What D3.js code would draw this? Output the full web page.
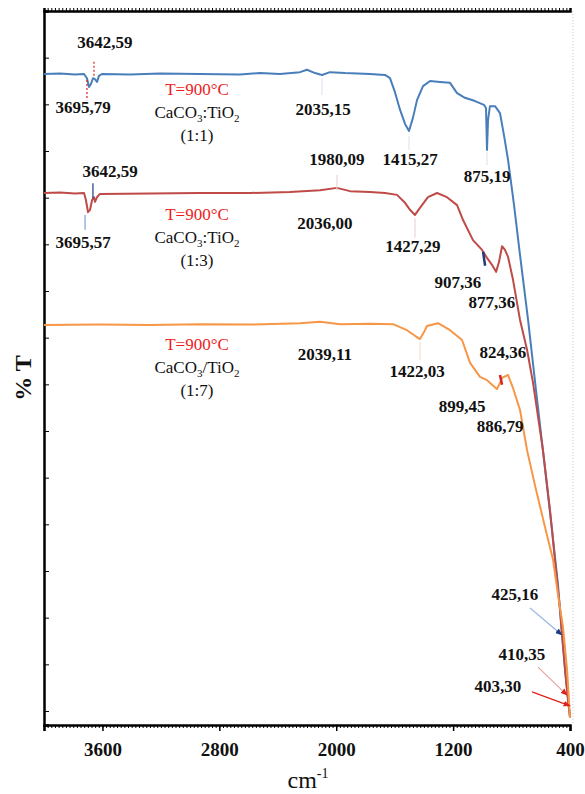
<!DOCTYPE html>
<html>
  <head>
    <meta charset="utf-8" />
    <title>FTIR CaCO3/TiO2</title>
    <script src="https://d3js.org/d3.v7.min.js"></script>
    <style>
      body { margin: 0; background: #fff; }
      text { font-family: "Liberation Serif", "DejaVu Serif", serif; }
      .line { fill: none; stroke-width: 2; stroke-linejoin: round; }
      .note { font-size: 17px; font-weight: bold; fill: #111; text-anchor: middle; }
      .sample { font-size: 17px; text-anchor: middle; }
    </style>
  </head>
  <body>
    <div id="chart"></div>
    <script>
      // wavenumber ticks (cm-1)
      const xTicks = [4000, 3600, 2800, 2000, 1200, 400];

      // CaCO3:TiO2 (1:1) - blue
      const blueWn = [4000,3890,3788,3726,3706,3692,3678,3665,3651,3637,3624,3603,3411,3206,2932,2659,2522,2385,2248,2200,2145,2097,2043,1940,1769,1666,1632,1598,1563,1529,1502,1475,1447,1406,1358,1290,1221,1173,1119,1050,989,975,968,961,948,913,879,852,824,783,742,687,633,578,523,482,455,427,400];
      const blueT = [136.5,136.6,136.4,136.5,135.6,133.7,134.4,135.6,135.4,134.8,136.1,136.5,136.4,136.6,136.5,136.4,136.7,136.5,136.9,137.4,136.7,136.3,136.9,136.7,136.5,136.3,135.6,132.6,128.8,125.8,124.3,127.1,130.9,133.9,135.0,134.8,134.6,132.4,131.4,130.7,129.9,129.2,120.2,126.6,129.6,129.6,128.1,123.4,118.1,108.4,97.7,83.8,68.8,53.8,38.8,27.0,16.3,6.7,-1.5];

      // CaCO3:TiO2 (1:3) - red
      const redWn = [4000,3890,3788,3726,3713,3699,3685,3671,3658,3651,3637,3617,3275,2932,2590,2316,2111,1995,1906,1769,1666,1584,1529,1495,1461,1427,1372,1310,1242,1173,1132,1064,1002,968,934,906,886,865,845,824,790,742,694,653,585,537,503,468,434,414,400];
      const redT = [111.0,111.1,110.9,111.0,109.5,106.9,107.4,109.5,110.1,109.1,110.1,110.8,110.9,111.0,111.0,111.2,111.6,112.1,111.4,111.2,111.0,110.6,108.9,107.4,106.3,107.8,110.1,111.0,110.1,108.4,105.2,100.9,98.8,97.1,95.6,94.1,96.2,99.6,98.8,97.3,92.4,83.8,77.4,70.3,55.9,43.1,32.4,21.7,8.8,2.4,-1.1];

      // CaCO3/TiO2 (1:7) - orange
      const orangeWn = [4000,3617,3275,2932,2590,2248,2111,1974,1769,1611,1516,1461,1427,1399,1379,1303,1221,1139,1084,1016,968,934,900,879,865,824,790,742,694,640,571,516,482,448,420,400];
      const orangeT = [82.7,82.8,82.7,82.9,82.8,83.1,83.4,82.9,83.0,82.9,81.6,80.4,79.7,81.2,82.5,83.1,81.6,79.5,74.6,71.6,70.9,69.9,69.0,70.3,71.4,72.0,69.2,64.5,55.9,48.4,39.4,32.4,24.9,18.0,8.8,-1.5];

      // peak labels: text, wavenumber, %T
      const peakText = ["3642,59","3695,79","2035,15","1415,27","875,19",
                        "3642,59","3695,57","1980,09","2036,00","1427,29","907,36","877,36",
                        "2039,11","1422,03","824,36","899,45","886,79",
                        "425,16","410,35","403,30"];
      const peakWn = [3583,3733,2090,1495,968, 3548,3733,1995,2077,1475,1167,934, 2077,1447,859,1139,879, 777,729,893];
      const peakT = [142.1,128.1,127.7,117.0,113.4, 114.4,99.2,117.0,103.3,98.4,90.6,86.4, 75.2,71.6,75.6,64.1,59.8, 23.8,10.9,4.1];

      // sample captions
      const sampleRatio = ["(1:1)", "(1:3)", "(1:7)"];
      const sampleSep = [":", ":", "/"];
      const sampleT = [132.0, 105.2, 77.4];
      const sampleWn = 2953;

      const serif = "Liberation Serif, DejaVu Serif, serif";
      const width = 585, height = 794;
      const x = d3.scaleLinear().domain([4000, 400]).range([44, 570]);
      const y = d3.scaleLinear().domain([-3, 150]).range([725, 11]);

      const svg = d3.select("#chart").append("svg")
        .attr("width", width).attr("height", height)
        .attr("font-family", serif);

      const defs = svg.append("defs");
      [["headNavy", "#1f3b82"], ["headRed", "#e0201b"]].forEach(([id, c]) => {
        defs.append("marker").attr("id", id)
          .attr("viewBox", "0 0 10 10").attr("refX", 9).attr("refY", 5)
          .attr("markerWidth", 6).attr("markerHeight", 6).attr("orient", "auto")
          .append("path").attr("d", "M0,1 L10,5 L0,9 z").attr("fill", c);
      });

      // right border (dotted grey)
      svg.append("line")
        .attr("x1", 573).attr("x2", 573).attr("y1", 11).attr("y2", 725)
        .attr("stroke", "#c8c8c8").attr("stroke-dasharray", "1,2");

      // minor ticks bottom + top
      const minor = d3.range(4000, 399, -25);
      svg.append("g").attr("transform", "translate(0,725)")
        .call(d3.axisBottom(x).tickValues(minor).tickSize(3).tickFormat(""))
        .call(g => g.select(".domain").remove());
      svg.append("g").attr("transform", "translate(0,11)")
        .call(d3.axisTop(x).tickValues(minor).tickSize(3).tickFormat(""))
        .call(g => g.select(".domain").attr("stroke-width", 2.5));

      // bottom axis
      const xAxis = svg.append("g").attr("transform", "translate(0,725)")
        .call(d3.axisBottom(x).tickValues(xTicks).tickSize(6).tickPadding(12)
          .tickFormat(d => d === 4000 ? "" : d));
      xAxis.attr("font-family", serif);
      xAxis.select(".domain").attr("stroke-width", 2.5);
      xAxis.selectAll(".tick line").attr("stroke-width", 1.5);
      xAxis.selectAll("text").attr("font-size", 19).attr("font-weight", "bold")
        .attr("font-family", serif).attr("fill", "#111");

      // left axis, inside ticks, no labels
      const yAxis = svg.append("g").attr("transform", "translate(44,0)")
        .call(d3.axisLeft(y).tickValues(d3.range(0, 151, 10)).tickSize(-5).tickFormat(""));
      yAxis.select(".domain").attr("stroke-width", 2.5);

      // spectra
      const line = d3.line().x(d => x(d[0])).y(d => y(d[1]));
      const series = [
        [blueWn, blueT, "#4a7ebb"],
        [redWn, redT, "#be4b48"],
        [orangeWn, orangeT, "#f79646"]
      ];
      series.forEach(([wn, t, c]) => {
        svg.append("path").attr("class", "line")
          .datum(d3.zip(wn, t)).attr("stroke", c).attr("d", line);
      });

      // leader lines
      const leaders = [
        [3658, 139.1, 3658, 136.1, "#e0201b", "2,2", null],
        [3706, 135.2, 3706, 130.9, "#e0201b", "2,2", null],
        [3665, 113.1, 3665, 109.9, "#1f3b82", null, null],
        [3719, 106.3, 3719, 103.1, "#7f9fd0", null, null],
        [2097, 135.6, 2097, 132.0, "#dfe6f0", null, null],
        [1502, 123.2, 1502, 120.2, "#dfe6f0", null, null],
        [968, 119.8, 968, 117.0, "#dfe6f0", null, null],
        [1995, 114.9, 1995, 111.6, "#ead6d6", null, null],
        [1461, 105.6, 1461, 101.4, "#ead6d6", null, null],
        [1427, 79.1, 1427, 75.2, "#f5e2d2", null, null],
        [674, 22.1, 455, 16.3, "#8db4e2", null, "headNavy"],
        [619, 9.4, 420, 3.4, "#eaa0a0", null, "headRed"],
        [660, 4.1, 400, 1.1, "#e0201b", null, "headRed"]
      ];
      leaders.forEach(([w1, t1, w2, t2, c, dash, head]) => {
        const l = svg.append("line")
          .attr("x1", x(w1)).attr("y1", y(t1)).attr("x2", x(w2)).attr("y2", y(t2))
          .attr("stroke", c).attr("stroke-width", 1.2);
        if (dash) l.attr("stroke-dasharray", dash);
        if (head) l.attr("marker-end", `url(#${head})`);
      });

      // small coloured peak markers
      svg.append("line").attr("x1", x(995)).attr("y1", y(98.4)).attr("x2", x(981)).attr("y2", y(95.4))
        .attr("stroke", "#1f3b82").attr("stroke-width", 2.5);
      svg.append("line").attr("x1", x(879)).attr("y1", y(72.0)).attr("x2", x(865)).attr("y2", y(69.9))
        .attr("stroke", "#d8261f").attr("stroke-width", 2.5);

      // peak labels
      svg.selectAll(".note").data(d3.zip(peakText, peakWn, peakT)).join("text")
        .attr("class", "note").attr("font-family", serif)
        .attr("x", d => x(d[1])).attr("y", d => y(d[2]))
        .text(d => d[0]);

      // sample captions
      sampleRatio.forEach((r, i) => {
        const cx = x(sampleWn), cy = y(sampleT[i]);
        svg.append("text").attr("class", "sample").attr("x", cx).attr("y", cy)
          .attr("fill", "#ee1c1c").text("T=900\u00B0C");
        const t = svg.append("text").attr("class", "sample").attr("x", cx).attr("y", cy + 23).attr("fill", "#111");
        t.append("tspan").text("CaCO");
        t.append("tspan").attr("font-size", 11).attr("dy", 4).text("3");
        t.append("tspan").attr("dy", -4).text(sampleSep[i] + "TiO");
        t.append("tspan").attr("font-size", 11).attr("dy", 4).text("2");
        svg.append("text").attr("class", "sample").attr("x", cx).attr("y", cy + 46)
          .attr("fill", "#111").text(r);
      });

      // axis titles
      svg.append("text")
        .attr("transform", "translate(31,378) rotate(-90)")
        .attr("text-anchor", "middle").attr("font-size", 24).attr("font-weight", "bold")
        .attr("fill", "#111").text("% T");
      const xt = svg.append("text").attr("x", 308).attr("y", 788)
        .attr("text-anchor", "middle").attr("font-size", 24).attr("fill", "#111");
      xt.append("tspan").text("cm");
      xt.append("tspan").attr("font-size", 14).attr("dy", -10).text("-1");
    </script>
  </body>
</html>
